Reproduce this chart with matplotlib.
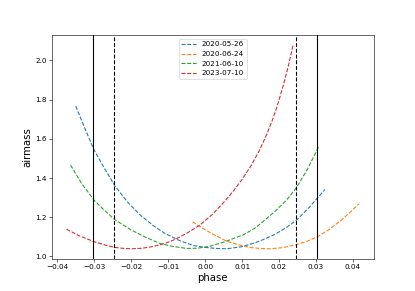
import matplotlib
matplotlib.use("Agg")
import matplotlib.pyplot as plt

labels = ["2020-05-26", "2020-06-24", "2021-06-10", "2023-07-10"]

blue_x = [-0.0350, -0.0325, -0.0300, -0.0272, -0.0244, -0.0210, -0.0175, -0.0140, -0.0109,
          -0.0068, -0.0030, 0.0000, 0.0030, 0.0058, 0.0100, 0.0134, 0.0160, 0.0188, 0.0218,
          0.0247, 0.0278, 0.0303, 0.0324]
blue_y = [1.767, 1.652, 1.542, 1.448, 1.360, 1.278, 1.210, 1.157, 1.118,
          1.080, 1.055, 1.046, 1.041, 1.039, 1.050, 1.069, 1.088, 1.112, 1.145,
          1.185, 1.243, 1.296, 1.342]

orange_x = [-0.0034, 0.0000, 0.0030, 0.0058, 0.0090, 0.0121, 0.0148, 0.0175, 0.0210,
            0.0247, 0.0275, 0.0303, 0.0335, 0.0365, 0.0392, 0.0416]
orange_y = [1.177, 1.136, 1.105, 1.078, 1.060, 1.046, 1.041, 1.039, 1.045,
            1.060, 1.077, 1.099, 1.137, 1.180, 1.225, 1.268]

green_x = [-0.0364, -0.0335, -0.0300, -0.0272, -0.0244, -0.0200, -0.0160, -0.0122, -0.0090,
           -0.0050, -0.0020, 0.0013, 0.0050, 0.0080, 0.0103, 0.0134, 0.0160, 0.0188, 0.0220,
           0.0247, 0.0278, 0.0307]
green_y = [1.466, 1.375, 1.286, 1.235, 1.187, 1.135, 1.097, 1.066, 1.052,
           1.041, 1.042, 1.052, 1.073, 1.094, 1.110, 1.143, 1.183, 1.228, 1.287,
           1.350, 1.449, 1.559]

red_x = [-0.0375, -0.0340, -0.0300, -0.0270, -0.0244, -0.0220, -0.0199, -0.0170, -0.0140,
         -0.0109, -0.0080, -0.0050, -0.0014, 0.0020, 0.0050, 0.0075, 0.0100, 0.0125, 0.0148,
         0.0166, 0.0184, 0.0198, 0.0211, 0.0225, 0.0238]
red_y = [1.139, 1.105, 1.075, 1.058, 1.046, 1.041, 1.039, 1.042, 1.051,
         1.066, 1.088, 1.118, 1.160, 1.215, 1.275, 1.330, 1.393, 1.465, 1.545,
         1.620, 1.705, 1.785, 1.870, 1.970, 2.078]

solid_lines = [-0.0304, 0.0304]
dashed_lines = [-0.0246, 0.0246]

fig = plt.figure(figsize=(415 / 52, 291 / 52), dpi=52)
ax = fig.add_subplot(111)

series = [(blue_x, blue_y), (orange_x, orange_y), (green_x, green_y), (red_x, red_y)]
for (x, y), lab in zip(series, labels):
    ax.plot(x, y, "--", label=lab)

for v in solid_lines:
    ax.axvline(v, color="black", linestyle="-")
for v in dashed_lines:
    ax.axvline(v, color="black", linestyle="--")

ax.set_xlabel("phase", fontsize=14)
ax.set_ylabel("airmass", fontsize=14)
ax.legend(loc="upper center")

fig.savefig("out.png", dpi=52)
